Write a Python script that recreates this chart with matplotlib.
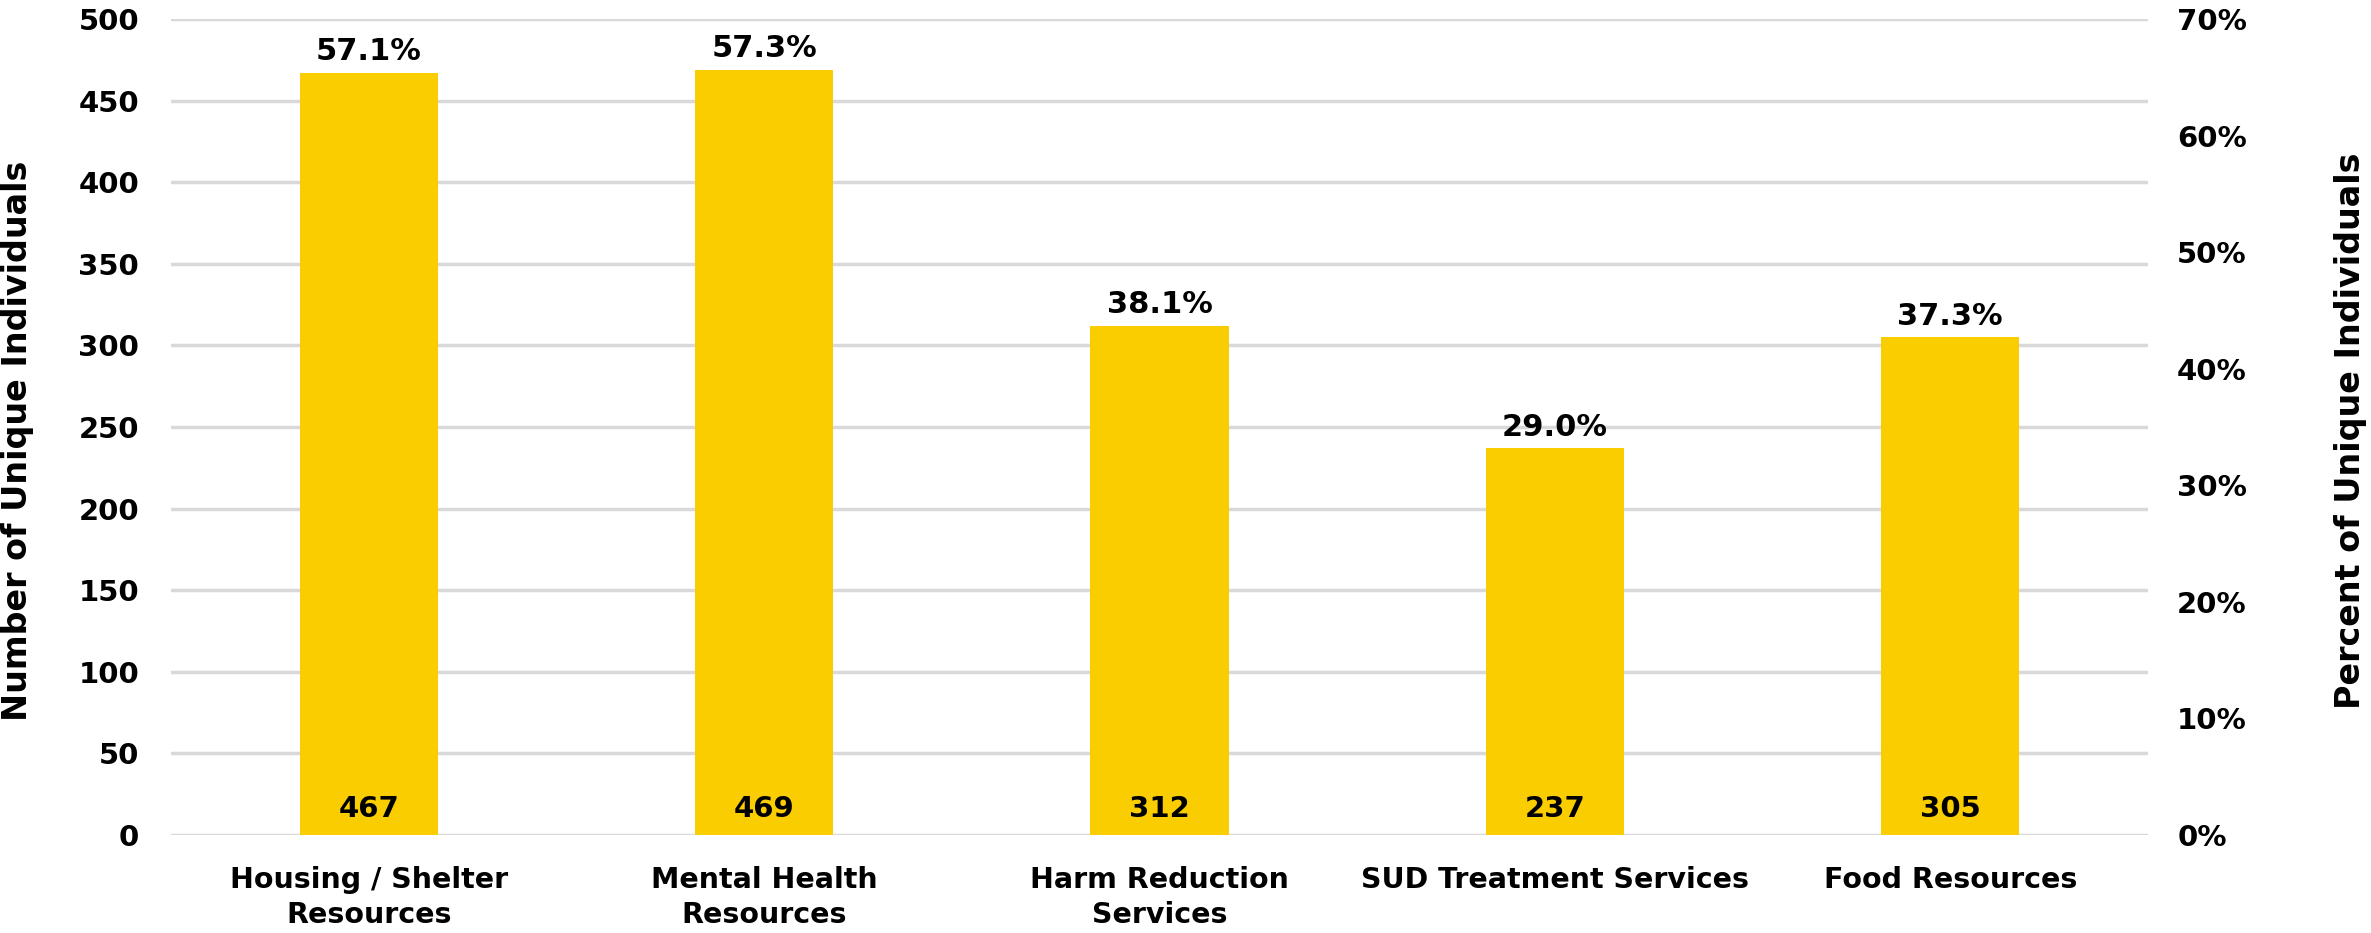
import numpy as np
import matplotlib.pyplot as plt

categories = ["Housing / Shelter\nResources", "Mental Health\nResources",
              "Harm Reduction\nServices", "SUD Treatment Services", "Food Resources"]
counts = [467, 469, 312, 237, 305]
percents = [57.1, 57.3, 38.1, 29.0, 37.3]

plt.rcParams['font.family'] = ['DejaVu Sans']
plt.rcParams['font.weight'] = 'bold'

W, H = 2371, 933
fig = plt.figure(figsize=(W / 100, H / 100), dpi=100)
ax = fig.add_axes([171 / W, 1 - 835 / H, (2148 - 171) / W, (835 - 19) / H])

x = np.arange(len(categories))
ax.bar(x, counts, width=0.35, color='#FACD00', zorder=2)

for xi, c, p in zip(x, counts, percents):
    ax.annotate(str(c), (xi, 0), xytext=(0, 13), textcoords='offset points',
                ha='center', va='baseline', fontsize=21, fontweight='bold')
    ax.annotate(f"{p:.1f}%", (xi, c), xytext=(0, 9), textcoords='offset points',
                ha='center', va='baseline', fontsize=22, fontweight='bold')

ax.set_xlim(-0.5, len(categories) - 0.5)
ax.set_ylim(0, 500)
ax.set_yticks(np.arange(0, 501, 50))
ax.set_xticks(x)
ax.set_xticklabels(categories, fontsize=20.5, fontweight='bold', linespacing=1.35)
ax.tick_params(axis='y', length=0, pad=23, labelsize=21)
ax.tick_params(axis='x', length=0, pad=22)
ax.grid(axis='y', color='#D9D9D9', linewidth=2.5, zorder=0)
for s in ax.spines.values():
    s.set_visible(False)

ax2 = ax.twinx()
ax2.set_ylim(0, 70)
ax2.set_yticks(np.arange(0, 71, 10))
ax2.set_yticklabels([f"{v}%" for v in range(0, 71, 10)])
ax2.tick_params(axis='y', length=0, pad=21, labelsize=21)
for s in ax2.spines.values():
    s.set_visible(False)

fig.text(1 / W, 1 - 441 / H, "Number of Unique Individuals", rotation=90,
         ha='left', va='center', fontsize=24, fontweight='bold')
fig.text(2334 / W, 1 - 431 / H, "Percent of Unique Individuals", rotation=90,
         ha='left', va='center', fontsize=24, fontweight='bold')

fig.savefig("out.png", dpi=100)
